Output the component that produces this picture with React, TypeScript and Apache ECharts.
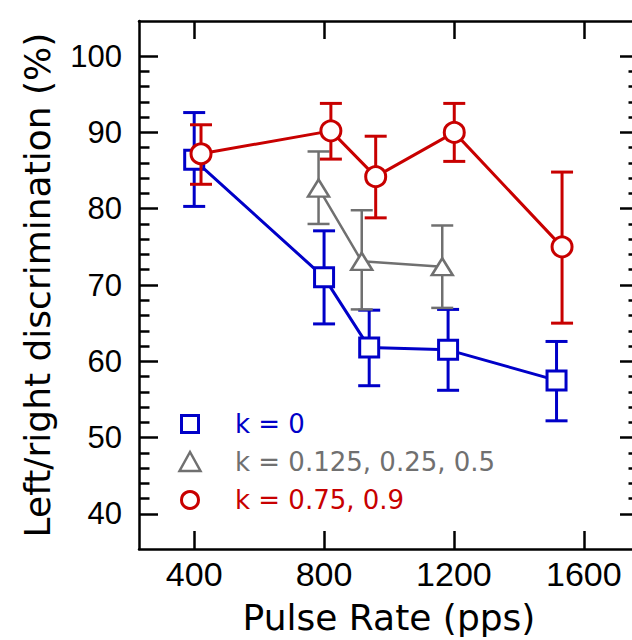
import React, { useEffect, useRef } from 'react';
import * as echarts from 'echarts';

// ---- Data ----
const blueX = [400, 800, 939, 1182, 1516];
const blueY = [86.4, 71.0, 61.8, 61.5, 57.5];
const blueLo = [80.3, 64.9, 56.8, 56.2, 52.2];
const blueHi = [92.6, 77.1, 66.7, 66.8, 62.6];

const grayX = [783, 916, 1164];
const grayY = [82.7, 73.1, 72.4];
const grayLo = [78.0, 66.8, 67.0];
const grayHi = [87.5, 79.8, 77.8];

const redX = [421, 821, 959, 1201, 1533];
const redY = [87.2, 90.2, 84.2, 90.0, 75.0];
const redLo = [83.2, 86.5, 78.8, 86.2, 65.0];
const redHi = [91.0, 93.8, 89.5, 93.8, 84.8];

const xTicks = [400, 800, 1200, 1600];
const yTicks = [40, 50, 60, 70, 80, 90, 100];
const yMinorTicks = [42, 44, 46, 48, 52, 54, 56, 58, 62, 64, 66, 68, 72, 74, 76, 78, 82, 84, 86, 88, 92, 94, 96, 98];

const legendLabels = ['k = 0', 'k = 0.125, 0.25, 0.5', 'k = 0.75, 0.9'];

const BLUE = '#0000C8';
const GRAY = '#707070';
const RED = '#C80000';
const FONT_NUM = "'Liberation Sans', Arial, sans-serif";
const FONT_TXT = "'DejaVu Sans', sans-serif";

const X_MIN = 230, X_MAX = 1770;
const Y_MIN = 35.4, Y_MAX = 104.6;

function errSeries(xs: number[], lo: number[], hi: number[], color: string, lw: number, z: number) {
  return {
    type: 'custom',
    z,
    silent: true,
    data: xs.map((x, i) => [x, lo[i], hi[i]]),
    encode: { x: 0, y: [1, 2] },
    renderItem: (params: any, api: any) => {
      const x = api.value(0);
      const pLo = api.coord([x, api.value(1)]);
      const pHi = api.coord([x, api.value(2)]);
      const hw = 11;
      const style = { stroke: color, lineWidth: lw };
      return {
        type: 'group',
        children: [
          { type: 'line', shape: { x1: pHi[0], y1: pHi[1], x2: pLo[0], y2: pLo[1] }, style },
          { type: 'line', shape: { x1: pHi[0] - hw, y1: pHi[1], x2: pHi[0] + hw, y2: pHi[1] }, style },
          { type: 'line', shape: { x1: pLo[0] - hw, y1: pLo[1], x2: pLo[0] + hw, y2: pLo[1] }, style },
        ],
      };
    },
  };
}

function lineSeries(name: string, xs: number[], ys: number[], color: string, symbol: string, size: any, lw: number, z: number) {
  return {
    type: 'line',
    name,
    z,
    silent: true,
    data: xs.map((x, i) => [x, ys[i]]),
    symbol,
    symbolSize: size,
    showAllSymbol: true,
    lineStyle: { color, width: lw },
    itemStyle: { color: '#ffffff', borderColor: color, borderWidth: lw, opacity: 1 },
    emphasis: { disabled: true },
  };
}

const axisLineStyle = { color: '#000', width: 2.5 };

function xAxisDef(pos: 'bottom' | 'top', labels: boolean) {
  return {
    type: 'value',
    position: pos,
    min: X_MIN,
    max: X_MAX,
    splitLine: { show: false },
    axisLine: { show: true, onZero: false, lineStyle: axisLineStyle },
    axisTick: { show: true, inside: true, length: 18, lineStyle: axisLineStyle, customValues: xTicks },
    axisLabel: labels
      ? {
          show: true,
          customValues: xTicks,
          formatter: (v: number) => String(v),
          fontSize: 34,
          fontFamily: FONT_NUM,
          color: '#000',
          margin: 8,
        }
      : { show: false },
    ...(labels
      ? {
          name: 'Pulse Rate (pps)',
          nameLocation: 'middle',
          nameGap: 50,
          nameTextStyle: { fontSize: 36, fontFamily: FONT_TXT, color: '#000' },
        }
      : {}),
  };
}

function yAxisDef(pos: 'left' | 'right', minor: boolean, labels: boolean) {
  return {
    type: 'value',
    position: pos,
    offset: 0,
    min: Y_MIN,
    max: Y_MAX,
    splitLine: { show: false },
    axisLine: { show: !minor, onZero: false, lineStyle: axisLineStyle },
    axisTick: {
      show: true,
      inside: true,
      length: minor ? 10.5 : 19,
      lineStyle: axisLineStyle,
      customValues: minor ? yMinorTicks : yTicks,
    },
    axisLabel: labels
      ? {
          show: true,
          customValues: yTicks,
          formatter: (v: number) => String(v),
          fontSize: 31,
          fontFamily: FONT_NUM,
          color: '#000',
          margin: 17,
        }
      : { show: false },
    ...(labels
      ? {
          name: 'Left/right discrimination (%)',
          nameLocation: 'middle',
          nameGap: 84,
          nameTextStyle: { fontSize: 36, fontFamily: FONT_TXT, color: '#000' },
        }
      : {}),
  };
}

const legendColors = [BLUE, GRAY, RED];
const legendRowY = [424, 462, 500];

const option: any = {
  animation: false,
  backgroundColor: '#ffffff',
  grid: { left: 139, top: 21, right: 11, bottom: 89.3, containLabel: false },
  xAxis: [xAxisDef('bottom', true), xAxisDef('top', false)],
  yAxis: [
    yAxisDef('left', false, true),
    yAxisDef('left', true, false),
    yAxisDef('right', false, false),
    yAxisDef('right', true, false),
  ],
  series: [
    errSeries(blueX, blueLo, blueHi, BLUE, 3, 1),
    lineSeries(legendLabels[0], blueX, blueY, BLUE, 'rect', 19, 3, 2),
    errSeries(grayX, grayLo, grayHi, GRAY, 2.5, 3),
    lineSeries(legendLabels[1], grayX, grayY, GRAY, 'triangle', [21, 17], 2.5, 4),
    errSeries(redX, redLo, redHi, RED, 3, 5),
    lineSeries(legendLabels[2], redX, redY, RED, 'circle', 20, 3, 6),
  ],
  graphic: [
    {
      type: 'rect',
      shape: { x: 181.5, y: legendRowY[0] - 8.5, width: 17, height: 17 },
      style: { fill: '#fff', stroke: BLUE, lineWidth: 3 },
    },
    {
      type: 'polygon',
      shape: { points: [[190, legendRowY[1] - 10], [179.5, legendRowY[1] + 9], [200.5, legendRowY[1] + 9]] },
      style: { fill: '#fff', stroke: GRAY, lineWidth: 2.5 },
    },
    {
      type: 'circle',
      shape: { cx: 190, cy: legendRowY[2], r: 8.5 },
      style: { fill: '#fff', stroke: RED, lineWidth: 3 },
    },
    ...legendLabels.map((t, i) => ({
      type: 'text',
      x: 235,
      y: legendRowY[i],
      style: {
        text: t,
        fill: legendColors[i],
        font: `26px ${FONT_TXT}`,
        textAlign: 'left',
        textVerticalAlign: 'middle',
      },
    })),
  ],
};

export default function App() {
  const ref = useRef<HTMLDivElement>(null);
  useEffect(() => {
    if (!ref.current) return;
    const chart = echarts.init(ref.current, null, { renderer: 'svg' });
    chart.setOption(option);
    return () => chart.dispose();
  }, []);
  return (
    <div
      style={{
        position: 'fixed',
        left: 0,
        top: 0,
        width: 632,
        height: 640,
        overflow: 'hidden',
        background: '#fff',
      }}
    >
      <div ref={ref} style={{ width: 650, height: 640 }} />
    </div>
  );
}
